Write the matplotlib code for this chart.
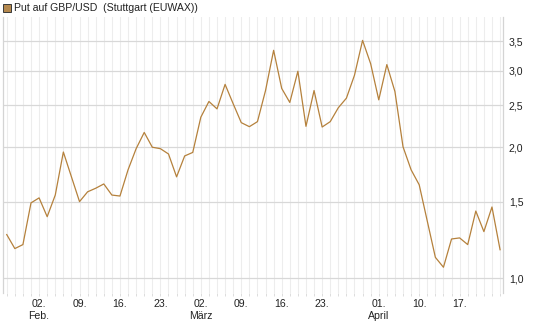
import matplotlib
matplotlib.use("Agg")
import matplotlib.pyplot as plt
from matplotlib.patches import Rectangle
from matplotlib.ticker import FixedLocator, NullLocator

plt.rcParams['font.family'] = ['Liberation Sans', 'DejaVu Sans']

# Handelstage 27.01. - 24.04. (Index = Handelstag)
values = [1.26, 1.17, 1.195, 1.49, 1.53, 1.385, 1.553, 1.95, 1.71, 1.50,
          1.58, 1.61, 1.647, 1.553, 1.545, 1.775, 1.985, 2.163, 2.0, 1.985,
          1.93, 1.71, 1.91, 1.946, 2.345, 2.548, 2.45, 2.789, 2.517, 2.278,
          2.23, 2.29, 2.70, 3.34, 2.73, 2.535, 2.99, 2.234, 2.70, 2.226,
          2.29, 2.465, 2.593, 2.928, 3.52, 3.11, 2.57, 3.097, 2.685, 2.005,
          1.775, 1.64, 1.353, 1.117, 1.06, 1.231, 1.238, 1.195, 1.427, 1.28,
          1.458, 1.163]

label_days = [4, 9, 14, 19, 24, 29, 34, 39, 46, 51, 56]
label_texts = ["02.\nFeb.", "09.", "16.", "23.", "02.\nMärz", "09.", "16.",
               "23.", "01.\nApril", "10.", "17."]

y_ticks = [1.0, 1.5, 2.0, 2.5, 3.0, 3.5]
y_labels = ["1,0", "1,5", "2,0", "2,5", "3,0", "3,5"]

line_color = "#b5813c"

fig = plt.figure(figsize=(5.45, 3.27), dpi=100)
ax = fig.add_axes([2.7 / 545, 34 / 327, 500.6 / 545, 276.3 / 327])

x = list(range(len(values)))
ax.plot(x, values, color=line_color, lw=0.9, zorder=3)

ax.set_yscale('log')
ax.set_ylim(0.925, 3.99)
ax.set_xlim(-0.5, 61.4)

ax.yaxis.set_major_locator(FixedLocator(y_ticks))
ax.yaxis.set_minor_locator(NullLocator())
ax.set_yticklabels(y_labels)
ax.yaxis.tick_right()
ax.tick_params(axis='y', length=0, pad=4, labelsize=7.6, labelcolor='#222222')

ax.set_xticks(x)
ax.set_xticklabels([label_texts[label_days.index(i)] if i in label_days else ''
                    for i in x])
ax.tick_params(axis='x', length=2, width=0.7, color='#dcdcdc', pad=2.5,
               labelsize=7.6, labelcolor='#222222')

ax.grid(axis='x', color='#ededed', lw=0.8, zorder=0)
ax.grid(axis='y', color='#d8d8d8', lw=0.9, zorder=1)

for side in ['top', 'bottom']:
    ax.spines[side].set_visible(False)
for side in ['left', 'right']:
    ax.spines[side].set_color('#d4d4d4')
    ax.spines[side].set_linewidth(0.9)

fig.patches.append(Rectangle((3 / 545, 1 - 12 / 327), 8 / 545, 8 / 327,
                             transform=fig.transFigure, facecolor='#b5894f',
                             edgecolor='#3a3a3a', lw=0.7))
fig.text(14 / 545, 1 - 8 / 327, "Put auf GBP/USD  (Stuttgart (EUWAX))",
         fontsize=7.6, va='center', ha='left', color='#222222')

fig.savefig("out.png", dpi=100)
